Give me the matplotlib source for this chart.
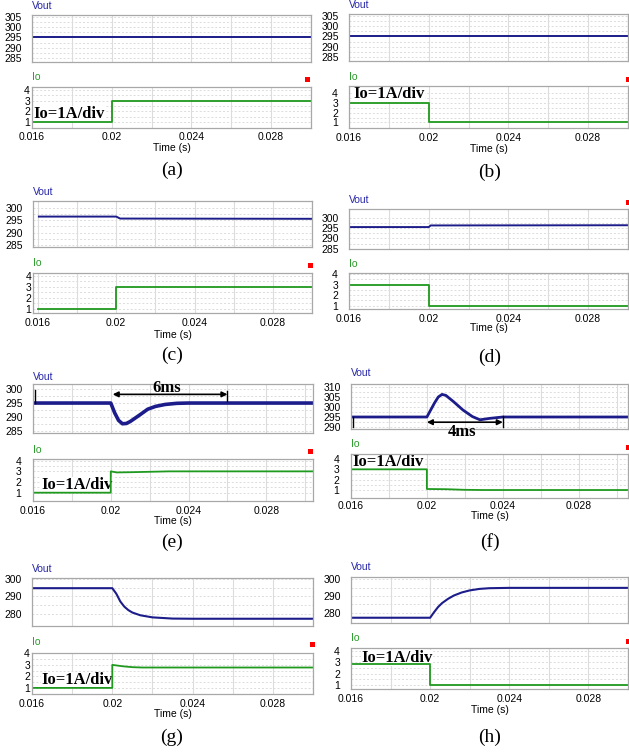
import matplotlib
matplotlib.use('Agg')
import matplotlib.pyplot as plt
from matplotlib.patches import Rectangle

W, H = 629, 753

# ---------------- data ----------------
time_ticks = [0.016, 0.020, 0.024, 0.028]
time_tick_labels = ['0.016', '0.02', '0.024', '0.028']
grid_times = [0.018, 0.022, 0.026, 0.030]

# (a) load step up 1A -> 3A
vout_t_a = [0.016, 0.030]
vout_a = [295.0, 295.0]
io_t_a = [0.016, 0.020, 0.020, 0.030]
io_a = [1.0, 1.0, 3.0, 3.0]

# (b) load step down 3A -> 1A
vout_t_b = [0.016, 0.030]
vout_b = [295.0, 295.0]
io_t_b = [0.016, 0.020, 0.020, 0.030]
io_b = [3.0, 3.0, 1.0, 1.0]

# (c)
vout_t_c = [0.016, 0.020, 0.0202, 0.030]
vout_c = [296.5, 296.5, 295.7, 295.6]
io_t_c = [0.016, 0.020, 0.020, 0.0302]
io_c = [1.0, 1.0, 3.0, 3.0]

# (d)
vout_t_d = [0.016, 0.020, 0.0201, 0.030]
vout_d = [295.6, 295.6, 296.4, 296.5]
io_t_d = [0.016, 0.020, 0.020, 0.030]
io_d = [3.0, 3.0, 1.0, 1.0]

# (e)
vout_t_e = [0.016, 0.0200, 0.0202, 0.0204, 0.0206, 0.0208, 0.0210, 0.0215,
            0.0219, 0.0223, 0.0228, 0.0234, 0.0240, 0.0304]
vout_e = [295.0, 295.0, 291.5, 288.8, 287.6, 287.7, 288.4, 290.8,
          292.8, 293.8, 294.5, 294.9, 295.0, 295.0]
io_t_e = [0.016, 0.020, 0.020, 0.0203, 0.021, 0.022, 0.023, 0.0304]
io_e = [1.0, 1.0, 3.0, 2.9, 2.92, 2.96, 3.0, 3.0]
span_e = [0.0201, 0.026]

# (f)
vout_t_f = [0.016, 0.0200, 0.0202, 0.0204, 0.0206, 0.0208, 0.0210, 0.0214,
            0.0219, 0.0224, 0.0228, 0.0233, 0.0240, 0.0306]
vout_f = [295.0, 295.0, 298.5, 302.0, 305.0, 306.3, 305.8, 302.7,
          298.5, 295.2, 293.6, 294.3, 295.0, 295.0]
io_t_f = [0.016, 0.020, 0.020, 0.021, 0.022, 0.023, 0.0306]
io_f = [3.0, 3.0, 1.1, 1.08, 1.02, 1.0, 1.0]
span_f = [0.0200, 0.024]

# (g)
vout_t_g = [0.016, 0.0200, 0.0202, 0.0204, 0.0206, 0.0208, 0.0210, 0.0214,
            0.0220, 0.0230, 0.0240, 0.0302]
vout_g = [294.7, 294.7, 291.5, 287.0, 284.0, 282.0, 280.6, 279.0,
          277.8, 277.1, 277.0, 277.0]
io_t_g = [0.016, 0.020, 0.020, 0.0205, 0.021, 0.0215, 0.0302]
io_g = [1.0, 1.0, 3.0, 2.88, 2.8, 2.77, 2.77]

# (h)
vout_t_h = [0.016, 0.0200, 0.0202, 0.0204, 0.0206, 0.0209, 0.0212, 0.0216,
            0.0220, 0.0225, 0.0230, 0.0240, 0.0300]
vout_h = [277.2, 277.2, 280.5, 283.5, 285.8, 288.3, 290.3, 292.1,
          293.3, 294.2, 294.6, 294.8, 294.8]
io_t_h = [0.016, 0.020, 0.020, 0.030]
io_h = [2.8, 2.8, 1.0, 1.0]

panel_names = ['(a)', '(b)', '(c)', '(d)', '(e)', '(f)', '(g)', '(h)']

# ---------------- layout (pixels) ----------------
panels = [
    dict(vt=vout_t_a, v=vout_a, it=io_t_a, i=io_a,
         vax=(32, 15, 311, 62), iax=(32, 87, 311, 128), xlim=(0.016, 0.030),
         vyl=(283, 306), vtk=[285, 290, 295, 300, 305], iyl=(0.44, 4.28),
         ipad=2, vlab=6, ilab=77, tky=137, timey=148, namey=170, namex=172,
         red=(307, 79), iotext=(33, 114.5), vlw=1.4),
    dict(vt=vout_t_b, v=vout_b, it=io_t_b, i=io_b,
         vax=(349, 14, 628, 61), iax=(349, 86, 628, 128), xlim=(0.016, 0.030),
         vyl=(283.2, 305.8), vtk=[285, 290, 295, 300, 305], iyl=(0.43, 4.75),
         ipad=11, vlab=5, ilab=77, tky=138, timey=149, namey=172, namex=490,
         red=(628, 79), iotext=(353, 93.5), vlw=1.4),
    dict(vt=vout_t_c, v=vout_c, it=io_t_c, i=io_c,
         vax=(33, 201, 312, 247), iax=(33, 273, 312, 313), xlim=(0.01575, 0.0300),
         vyl=(284.2, 302.8), vtk=[285, 290, 295, 300], iyl=(0.64, 4.24),
         ipad=2, vlab=192, ilab=263, tky=323, timey=335, namey=355, namex=172,
         red=(310, 265), iotext=None, vlw=1.4),
    dict(vt=vout_t_d, v=vout_d, it=io_t_d, i=io_d,
         vax=(349, 209, 628, 249), iax=(349, 273, 628, 309), xlim=(0.016, 0.0299),
         vyl=(284.8, 304.5), vtk=[285, 290, 295, 300], iyl=(0.68, 4.12),
         ipad=11, vlab=200, ilab=264, tky=319, timey=328, namey=357, namex=490,
         red=(628, 202), iotext=None, vlw=1.4),
    dict(vt=vout_t_e, v=vout_e, it=io_t_e, i=io_e,
         vax=(33, 384, 313, 433), iax=(33, 459, 313, 501), xlim=(0.016, 0.0304),
         vyl=(284.3, 301.8), vtk=[285, 290, 295, 300], iyl=(0.22, 4.16),
         ipad=12, vlab=377, ilab=450, tky=511, timey=521, namey=542, namex=172,
         red=(310, 451), iotext=(41, 485), vlw=2.6),
    dict(vt=vout_t_f, v=vout_f, it=io_t_f, i=io_f,
         vax=(351, 384, 628, 429), iax=(351, 454, 628, 498), xlim=(0.016, 0.0306),
         vyl=(289, 311.5), vtk=[290, 295, 300, 305, 310], iyl=(0.23, 4.48),
         ipad=12, vlab=373, ilab=444, tky=506, timey=516, namey=542, namex=490,
         red=(628, 447), iotext=(352, 462), vlw=2.0),
    dict(vt=vout_t_g, v=vout_g, it=io_t_g, i=io_g,
         vax=(32, 578, 313, 626), iax=(32, 653, 313, 694), xlim=(0.016, 0.0300),
         vyl=(272.8, 300.6), vtk=[280, 290, 300], iyl=(0.47, 4.03),
         ipad=2, vlab=569, ilab=642, tky=704, timey=714, namey=737, namex=172,
         red=(312, 644), iotext=(41, 680), vlw=1.5),
    dict(vt=vout_t_h, v=vout_h, it=io_t_h, i=io_h,
         vax=(351, 577, 628, 623), iax=(351, 648, 628, 689), xlim=(0.016, 0.02985),
         vyl=(274.1, 301.2), vtk=[280, 290, 300], iyl=(0.65, 4.23),
         ipad=11, vlab=567, ilab=638, tky=699, timey=710, namey=737, namex=490,
         red=(628, 641), iotext=(361, 658), vlw=1.5),
]

VCOL = '#1c1c8a'
ICOL = '#1f9a1f'
GRID = '#dcdcdc'
SPINE = '#a8a8a8'
SANS = 'Liberation Sans'
SERIF = 'Liberation Serif'
TFS = 7.5

fig = plt.figure(figsize=(W / 100, H / 100), dpi=100)


def add_ax(box):
    l, t, r, b = box
    return fig.add_axes([l / W, 1 - b / H, (r - l) / W, (b - t) / H])


def fx(x):
    return x / W


def fy(y):
    return 1 - y / H


def style(ax, xlim, ylim, yticks, ypad, show_x):
    ax.set_xlim(*xlim)
    ax.set_ylim(*ylim)
    ax.set_xticks(time_ticks)
    ax.set_xticks(grid_times, minor=True)
    ax.set_yticks(yticks)
    mids = [(yticks[k] + yticks[k + 1]) / 2 for k in range(len(yticks) - 1)]
    ax.set_yticks(mids, minor=True)
    ax.set_yticklabels([str(v) for v in yticks], fontfamily=SANS, fontsize=TFS)
    if show_x:
        ax.set_xticklabels(time_tick_labels, fontfamily=SANS, fontsize=TFS)
    else:
        ax.set_xticklabels([])
    ax.tick_params(axis='both', which='both', length=0)
    ax.tick_params(axis='y', pad=ypad * 0.72)
    ax.set_axisbelow(True)
    ax.grid(True, axis='x', which='both', color=GRID, lw=0.8, ls='-')
    ax.grid(True, axis='y', which='both', color=GRID, lw=0.7, ls=(0, (2, 2)))
    for s in ax.spines.values():
        s.set_color(SPINE)
        s.set_linewidth(0.9)


axes_v = []
for p, name in zip(panels, panel_names):
    av = add_ax(p['vax'])
    ai = add_ax(p['iax'])
    av.plot(p['vt'], p['v'], color=VCOL, lw=p['vlw'], solid_capstyle='butt')
    ai.plot(p['it'], p['i'], color=ICOL, lw=1.3)
    style(av, p['xlim'], p['vyl'], p['vtk'], 10, False)
    style(ai, p['xlim'], p['iyl'], [1, 2, 3, 4], p['ipad'], True)
    ib = p['iax'][3]
    ai.tick_params(axis='x', pad=(p['tky'] - ib) * 0.72)
    for lbl in ai.get_xticklabels():
        lbl.set_va('center')
    l, t, r, b = p['vax']
    fig.text(fx(l), fy(p['vlab']), 'Vout', color='#2626a6', fontfamily=SANS,
             fontsize=TFS, ha='left', va='center')
    fig.text(fx(l), fy(p['ilab']), 'Io', color='#2a9a2a', fontfamily=SANS,
             fontsize=TFS, ha='left', va='center')
    fig.text(fx((l + r) / 2), fy(p['timey']), 'Time (s)', fontfamily=SANS,
             fontsize=TFS, ha='center', va='center')
    fig.text(fx(p['namex']), fy(p['namey']), name, fontfamily=SERIF,
             fontsize=14, ha='center', va='center')
    rx, ry = p['red']
    fig.add_artist(Rectangle((fx(rx - 2.5), fy(ry + 2.5)), 5 / W, 5 / H,
                             transform=fig.transFigure, facecolor='#ff0000',
                             edgecolor='none'))
    if p['iotext'] is not None:
        tx, ty = p['iotext']
        ai.text(fx(tx), fy(ty), 'Io=1A/div', transform=fig.transFigure,
                fontfamily=SERIF, fontweight='bold', fontsize=12, ha='left',
                va='center', zorder=1.5, clip_on=False,
                bbox=dict(facecolor='white', edgecolor='none', pad=0.3))
    axes_v.append(av)

# annotations (e)
ae = axes_v[4]
ae.plot([0.0161, 0.0161], [295.0, 299.6], color='black', lw=1.0)
ae.plot([span_e[1], span_e[1]], [295.9, 299.4], color='black', lw=1.0)
ae.annotate('', xy=(span_e[0], 298.1), xytext=(span_e[1], 298.1),
            arrowprops=dict(arrowstyle='<|-|>', color='black', lw=1.2,
                            mutation_scale=8, shrinkA=0, shrinkB=0))
ae.text(0.02287, 300.2, '6ms', fontfamily=SERIF, fontweight='bold',
        fontsize=12, ha='center', va='center', clip_on=False)

# annotations (f)
af = axes_v[5]
af.plot([0.0161, 0.0161], [290.2, 295.0], color='black', lw=1.0)
af.plot([span_f[1], span_f[1]], [290.2, 295.5], color='black', lw=1.0)
af.annotate('', xy=(span_f[0], 292.4), xytext=(span_f[1], 292.4),
            arrowprops=dict(arrowstyle='<|-|>', color='black', lw=1.2,
                            mutation_scale=8, shrinkA=0, shrinkB=0))
af.text(0.02183, 287.6, '4ms', fontfamily=SERIF, fontweight='bold',
        fontsize=12, ha='center', va='center', clip_on=False)

fig.savefig('out.png', dpi=100)
